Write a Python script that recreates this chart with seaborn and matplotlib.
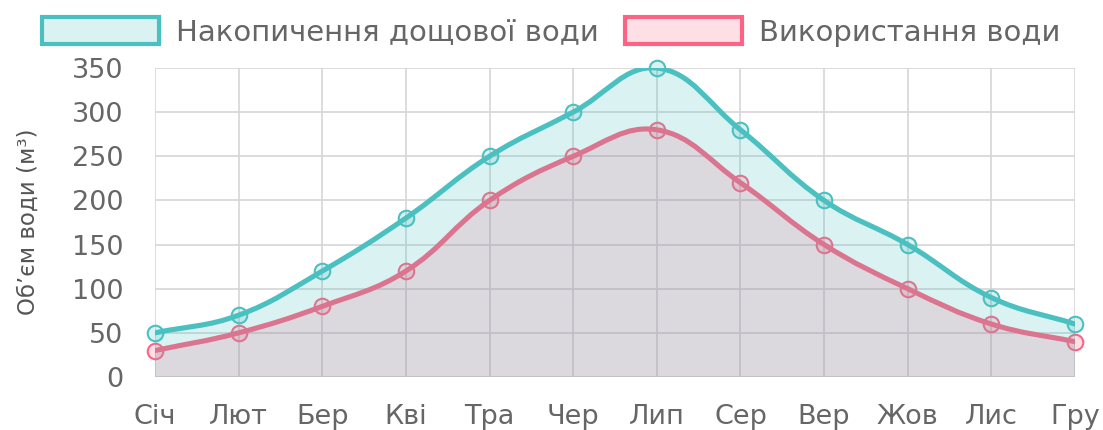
import numpy as np
import pandas as pd
import matplotlib
matplotlib.use("Agg")
import matplotlib.pyplot as plt
from matplotlib.path import Path
from matplotlib.patches import PathPatch, Rectangle
import seaborn as sns

# Дані
months = ["Січ", "Лют", "Бер", "Кві", "Тра", "Чер", "Лип", "Сер", "Вер", "Жов", "Лис", "Гру"]
rain = [50, 70, 120, 180, 250, 300, 350, 280, 200, 150, 90, 60]
usage = [30, 50, 80, 120, 200, 250, 280, 220, 150, 100, 60, 40]
y_ticks = [0, 50, 100, 150, 200, 250, 300, 350]
rain_label = "Накопичення дощової води"
usage_label = "Використання води"
y_label = "Об’єм води (м³)"

TEAL = (75/255, 192/255, 192/255)
PINK = (255/255, 99/255, 132/255)
GRID = "#d6d6d6"
TXT = "#666666"

sns.set_theme(style="white")
plt.rcParams['font.family'] = ['DejaVu Sans']

fig = plt.figure(figsize=(11.03, 4.30), dpi=100)
W, H = 1103, 430
ax = fig.add_axes([155 / W, (H - 377) / H, (1075 - 155) / W, (377 - 68) / H])
x = np.arange(len(months))
ax.set_xlim(0, len(months) - 1)
ax.set_ylim(0, 350)
ax.set_xticks(x)
ax.set_xticklabels(months)
ax.set_yticks(y_ticks)
for s in ax.spines.values():
    s.set_visible(False)
ax.grid(True, color=GRID, lw=1.2)
ax.set_axisbelow(True)
ax.tick_params(axis="x", length=11.5, width=1.2, color=GRID, pad=8, labelsize=19.5, labelcolor=TXT)
ax.tick_params(axis="y", length=16, width=1.2, color=GRID, pad=7, labelsize=19.5, labelcolor=TXT)


def spline(xs, ys, tension=0.4):
    # крива як у Chart.js (tension 0.4), контрольні точки в пікселях
    pts = ax.transData.transform(np.column_stack([xs, ys]))
    n = len(pts)
    cps = []
    for i in range(n):
        prev = pts[max(i - 1, 0)]
        cur = pts[i]
        nxt = pts[min(i + 1, n - 1)]
        d01 = np.hypot(*(cur - prev))
        d12 = np.hypot(*(nxt - cur))
        tot = d01 + d12
        fa = tension * d01 / tot
        fb = tension * d12 / tot
        cps.append((cur - fa * (nxt - prev), cur + fb * (nxt - prev)))
    verts = [pts[0]]
    codes = [Path.MOVETO]
    for i in range(n - 1):
        verts += [cps[i][1], cps[i + 1][0], pts[i + 1]]
        codes += [Path.CURVE4] * 3
    return ax.transData.inverted().transform(np.array(verts)), codes


def draw_series(ys, color, z):
    verts, codes = spline(x, ys)
    fill_verts = np.vstack([verts, [[x[-1], 0], [x[0], 0], [x[0], 0]]])
    fill_codes = codes + [Path.LINETO, Path.LINETO, Path.CLOSEPOLY]
    ax.add_patch(PathPatch(Path(fill_verts, fill_codes), facecolor=color + (0.2,),
                           edgecolor="none", zorder=z))
    ax.add_patch(PathPatch(Path(verts, codes), facecolor="none", edgecolor=color,
                           lw=3.7, capstyle="round", joinstyle="round", zorder=z + 1))
    df = pd.DataFrame({"x": x, "y": ys})
    sns.scatterplot(data=df, x="x", y="y", ax=ax, s=125, color=color + (0.2,),
                    edgecolor=color, linewidth=1.5, zorder=z + 2, clip_on=False)


# спершу друга серія, потім перша поверх (як у Chart.js)
draw_series(usage, PINK, 2)
draw_series(rain, TEAL, 6)
ax.set_xlabel("")
ax.set_ylabel("")

fig.text(28 / W, 1 - 222 / H, y_label, rotation=90, ha="center", va="center",
         fontsize=16.5, color="#555555")

handles = [Rectangle((0, 0), 1, 1, facecolor=TEAL + (0.2,), edgecolor=TEAL, lw=3),
           Rectangle((0, 0), 1, 1, facecolor=PINK + (0.2,), edgecolor=PINK, lw=3)]
fig.legend(handles, [rain_label, usage_label], loc="center", bbox_to_anchor=(0.5, 1 - 32 / H),
           ncol=2, frameon=False, fontsize=21, labelcolor=TXT, handlelength=4.0,
           handleheight=1.05, handletextpad=0.6, columnspacing=0.9, borderaxespad=0)

fig.savefig("out.png", dpi=100)
